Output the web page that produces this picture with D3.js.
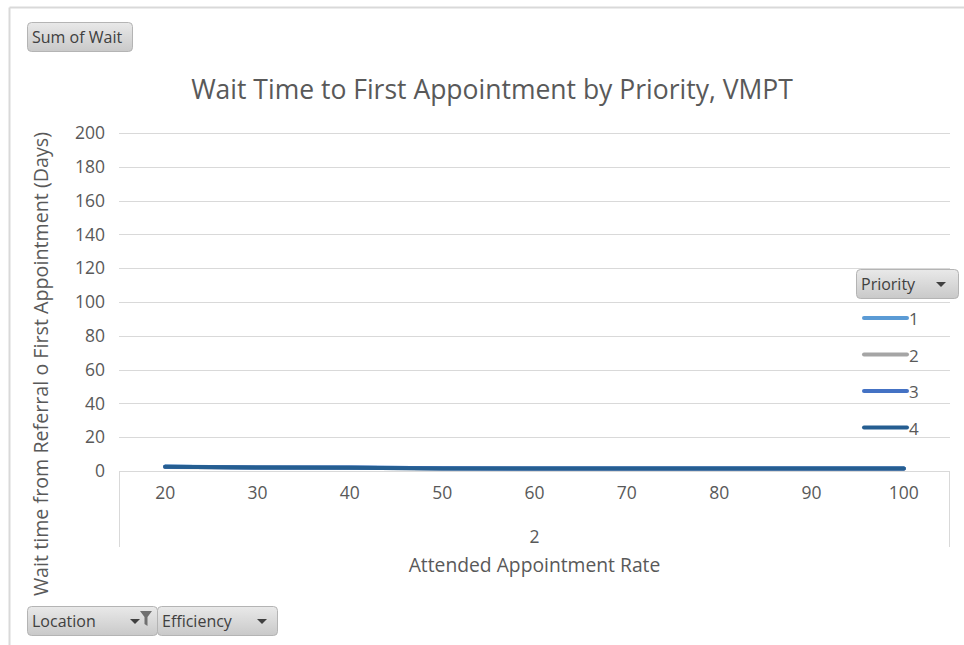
<!DOCTYPE html>
<html>
<head>
<meta charset="utf-8">
<script src="https://cdn.jsdelivr.net/npm/d3@7"></script>
<style>
	body { margin: 0; background: #fff; }
	svg { display: block; font-family: "Open Sans", "Noto Sans", sans-serif; }
</style>
</head>
<body>
<script>
// Chart data
const rates = ["20", "30", "40", "50", "60", "70", "80", "90", "100"];
const priorities = ["1", "2", "3", "4"];
const wait1 = [2.6, 2.1, 2.0, 1.6, 1.5, 1.5, 1.5, 1.5, 1.5];
const wait2 = [2.4, 2.0, 1.9, 1.5, 1.4, 1.4, 1.4, 1.4, 1.4];
const wait3 = [2.5, 2.0, 2.0, 1.6, 1.5, 1.5, 1.5, 1.5, 1.5];
const wait4 = [2.5, 2.1, 1.9, 1.5, 1.5, 1.5, 1.5, 1.5, 1.5];
const yTicks = [0, 20, 40, 60, 80, 100, 120, 140, 160, 180, 200];
const colors = ["#5b9bd5", "#a5a5a5", "#4472c4", "#255e91"];

const series = [wait1, wait2, wait3, wait4].map((vals, i) => ({
	name: priorities[i],
	color: colors[i],
	values: vals.map((v, j) => ({ rate: rates[j], wait: v })),
}));

const w = 964;
const h = 645;
const plot = { left: 119, right: 950, top: 133, bottom: 471 };
const font = '"Open Sans", "Noto Sans", sans-serif';

const svg = d3.select("body").append("svg").attr("width", w).attr("height", h);

// Outer frame (top and left edges only visible)
svg.append("line").attr("x1", 9.5).attr("x2", w).attr("y1", 7.5).attr("y2", 7.5)
	.attr("stroke", "#d9d9d9").attr("stroke-width", 2);
svg.append("line").attr("x1", 9.5).attr("x2", 9.5).attr("y1", 7.5).attr("y2", h)
	.attr("stroke", "#d9d9d9").attr("stroke-width", 2);

// Button gradient
const defs = svg.append("defs");
const grad = defs.append("linearGradient").attr("id", "btn").attr("x1", 0).attr("x2", 0).attr("y1", 0).attr("y2", 1);
grad.append("stop").attr("offset", "0%").attr("stop-color", "#e9e9e9");
grad.append("stop").attr("offset", "100%").attr("stop-color", "#c9c9c9");

function button(x, y, bw, label, arrow, filter) {
	const g = svg.append("g").attr("transform", `translate(${x},${y})`);
	g.append("rect").attr("x", 0.5).attr("y", 0.5).attr("width", bw).attr("height", 29)
		.attr("rx", 4).attr("fill", "url(#btn)").attr("stroke", "#b4b4b4");
	g.append("text").attr("x", 5).attr("y", 21).attr("font-size", 16).attr("fill", "#404040").text(label);
	if (arrow) {
		g.append("path").attr("d", `M${arrow - 5},13L${arrow + 5},13L${arrow},18Z`).attr("fill", "#404040");
	}
	if (filter) {
		g.append("path")
			.attr("d", `M${filter - 6},5L${filter + 6},5L${filter + 1.5},11L${filter + 1.5},20L${filter - 1.5},18L${filter - 1.5},11Z`)
			.attr("fill", "#707070");
	}
}

button(27, 22, 105, "Sum of Wait");
button(27, 606, 130, "Location", 108, 119);
button(157, 606, 120, "Efficiency", 105);
button(856, 269, 102, "Priority", 85);

// Title
svg.append("text")
	.attr("x", 492).attr("y", 99)
	.attr("text-anchor", "middle").attr("font-size", 26.5).attr("fill", "#595959")
	.text("Wait Time to First Appointment by Priority, VMPT");

// Scales
const x = d3.scaleBand().domain(rates).range([plot.left, plot.right]);
const y = d3.scaleLinear().domain([0, 200]).range([plot.bottom, plot.top]);

// Gridlines
svg.append("g")
	.selectAll("line")
	.data(yTicks.filter((d) => d > 0))
	.join("line")
	.attr("x1", plot.left).attr("x2", plot.right)
	.attr("y1", (d) => Math.round(y(d)) + 0.5).attr("y2", (d) => Math.round(y(d)) + 0.5)
	.attr("stroke", "#d9d9d9");

// Y axis labels
const yAxis = d3.axisLeft(y).tickValues(yTicks).tickSize(0).tickPadding(14);
const yg = svg.append("g").attr("transform", `translate(${plot.left},0)`).call(yAxis)
	.attr("font-family", font).attr("font-size", 17.5);
yg.select(".domain").remove();
yg.selectAll("text").attr("fill", "#595959");

// X axis: zero line + category box
svg.append("line").attr("x1", plot.left).attr("x2", plot.right)
	.attr("y1", plot.bottom + 0.5).attr("y2", plot.bottom + 0.5).attr("stroke", "#d9d9d9");
svg.append("line").attr("x1", plot.left + 0.5).attr("x2", plot.left + 0.5)
	.attr("y1", plot.bottom).attr("y2", 547).attr("stroke", "#d9d9d9");
svg.append("line").attr("x1", plot.right - 0.5).attr("x2", plot.right - 0.5)
	.attr("y1", plot.bottom).attr("y2", 547).attr("stroke", "#d9d9d9");

const xAxis = d3.axisBottom(x).tickSize(0).tickPadding(16);
const xg = svg.append("g").attr("transform", `translate(0,${plot.bottom})`).call(xAxis)
	.attr("font-family", font).attr("font-size", 17.5);
xg.select(".domain").remove();
xg.selectAll("text").attr("fill", "#595959");

// Outer category label and axis title
svg.append("text").attr("x", (plot.left + plot.right) / 2).attr("y", 543)
	.attr("text-anchor", "middle").attr("font-size", 17.5).attr("fill", "#595959").text("2");
svg.append("text").attr("x", (plot.left + plot.right) / 2).attr("y", 572)
	.attr("text-anchor", "middle").attr("font-size", 19.3).attr("fill", "#595959").text("Attended Appointment Rate");

svg.append("text")
	.attr("transform", "translate(48,364) rotate(-90)")
	.attr("text-anchor", "middle").attr("font-size", 19.7).attr("fill", "#595959")
	.text("Wait time from Referral o First Appointment (Days)");

// Lines
const line = d3.line()
	.x((d) => x(d.rate) + x.bandwidth() / 2)
	.y((d) => y(d.wait));

svg.append("g")
	.selectAll("path")
	.data(series)
	.join("path")
	.attr("d", (d) => line(d.values))
	.attr("fill", "none")
	.attr("stroke", (d) => d.color)
	.attr("stroke-width", 4)
	.attr("stroke-linecap", "round")
	.attr("stroke-linejoin", "round");

// Legend
const legend = svg.append("g").selectAll("g").data(series).join("g")
	.attr("transform", (d, i) => `translate(862,${318 + i * 36.5})`);
legend.append("line").attr("x1", 2).attr("x2", 45).attr("y1", 0).attr("y2", 0)
	.attr("stroke", (d) => d.color).attr("stroke-width", 4).attr("stroke-linecap", "round");
legend.append("text").attr("x", 47).attr("y", 7).attr("font-size", 17).attr("fill", "#595959")
	.text((d) => d.name);
</script>
</body>
</html>
